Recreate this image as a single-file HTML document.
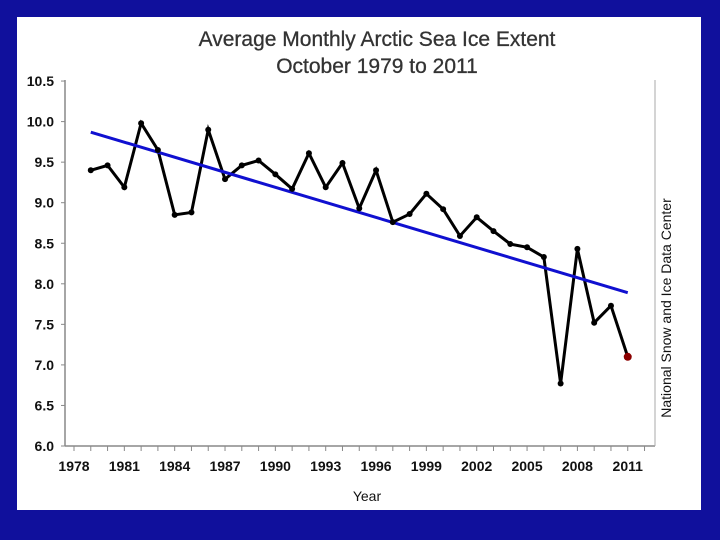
<!DOCTYPE html>
<html><head><meta charset="utf-8"><style>
html,body{margin:0;padding:0;background:#10109c;}
svg{display:block;font-family:"Liberation Sans",Arial,sans-serif;}
</style></head><body>
<svg width="720" height="540">
<rect x="0" y="0" width="720" height="540" fill="#10109c"/>
<rect x="17" y="17" width="684" height="493" fill="#fff"/>
<text x="377" y="46" font-size="21" text-anchor="middle" fill="#333" stroke="#333" stroke-width="0.3">Average Monthly Arctic Sea Ice Extent</text>
<text x="377" y="73" font-size="21" text-anchor="middle" fill="#333" stroke="#333" stroke-width="0.3">October 1979 to 2011</text>
<text transform="translate(671,308) rotate(-90)" font-size="14" text-anchor="middle" fill="#111">National Snow and Ice Data Center</text>
<text x="367" y="501" font-size="14" text-anchor="middle" fill="#111">Year</text>
<g id="axes"></g>
<g id="marks"></g>
</svg>
<script>
const years=[1979,1980,1981,1982,1983,1984,1985,1986,1987,1988,1989,1990,1991,1992,1993,1994,1995,1996,1997,1998,1999,2000,2001,2002,2003,2004,2005,2006,2007,2008,2009,2010,2011];
const extent=[9.40,9.46,9.19,9.98,9.65,8.85,8.88,9.90,9.29,9.46,9.52,9.35,9.17,9.61,9.19,9.49,8.93,9.40,8.76,8.86,9.11,8.92,8.59,8.82,8.65,8.49,8.45,8.33,6.77,8.43,7.52,7.73,7.10];
const trendStart=9.87, trendEnd=7.89;
const yTicks=[6.0,6.5,7.0,7.5,8.0,8.5,9.0,9.5,10.0,10.5];
const xTickLabels=[1978,1981,1984,1987,1990,1993,1996,1999,2002,2005,2008,2011];
const NS="http://www.w3.org/2000/svg";
const X=yr=>74+(yr-1978)*16.78;
const Y=v=>446-(v-6)*81.1;
const ax=document.getElementById('axes'), mk=document.getElementById('marks');
function el(t,a,p){const e=document.createElementNS(NS,t);for(const k in a)e.setAttribute(k,a[k]);p.appendChild(e);return e;}
let e=el('line',{x1:65,y1:80,x2:65,y2:446,stroke:'#888','stroke-width':1.5},ax);


e=el('line',{x1:65,y1:446,x2:655,y2:446,stroke:'#888','stroke-width':1.5},ax);


e=el('line',{x1:655,y1:80,x2:655,y2:446,stroke:'#aaa','stroke-width':1},ax);


yTicks.forEach(v=>{
 const t=el('line',{x1:61,y1:Y(v),x2:65,y2:Y(v),stroke:'#888'},ax);
 
 
 const l=el('text',{x:54,y:Y(v)+5,'font-size':14,'font-weight':'bold','text-anchor':'end',fill:'#111'},ax);
 l.textContent=v.toFixed(1);
 
 
});
for(let yr=1978;yr<=2012;yr++){
 const t=el('line',{x1:X(yr),y1:446,x2:X(yr),y2:451,stroke:'#888'},ax);
 
 
}
xTickLabels.forEach(yr=>{
 const l=el('text',{x:X(yr),y:471,'font-size':14,'font-weight':'bold','text-anchor':'middle',fill:'#111'},ax);
 l.textContent=yr;
 
 
});
const line=el('polyline',{points:years.map((y,i)=>X(y)+','+Y(extent[i])).join(' '),fill:'none',stroke:'#000','stroke-width':3,'stroke-linejoin':'miter'},mk);


const tr=el('line',{x1:X(years[0]),y1:Y(trendStart),x2:X(years[years.length-1]),y2:Y(trendEnd),stroke:'#1010d0','stroke-width':3},mk);


years.forEach((y,i)=>{
 const last=i===years.length-1;
 const p=el('circle',{cx:X(y),cy:Y(extent[i]),r:last?4:3,fill:last?'#8b0000':'#000'},mk);
 
 
});
</script>
</body></html>
